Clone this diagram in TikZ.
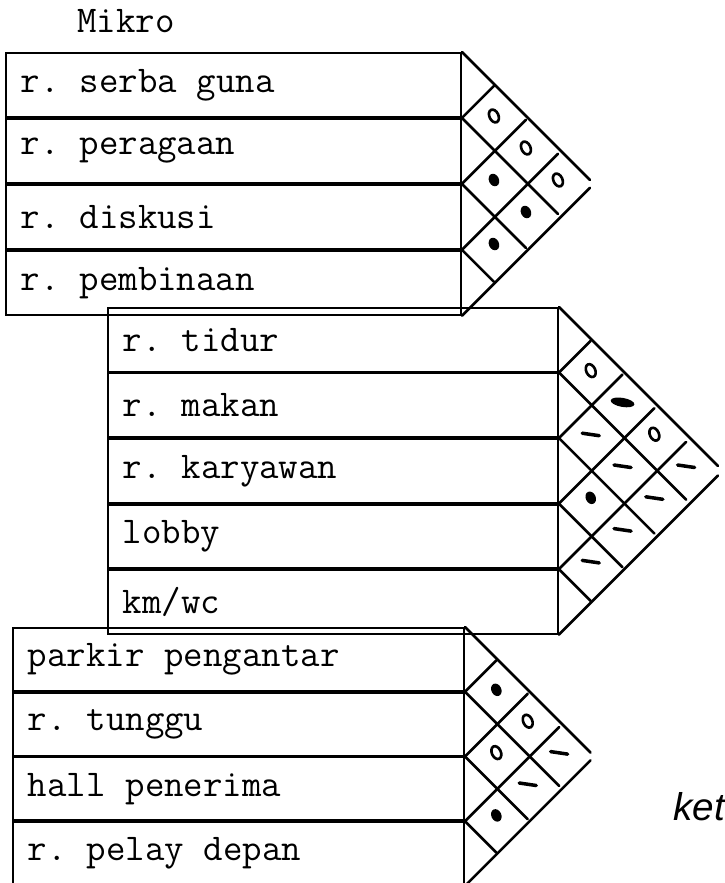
\documentclass[tikz,border=0pt]{standalone}
\usepackage{fontspec}
\usepackage{tikz}
\usetikzlibrary{positioning,calc}
\newfontfamily\handfont{Liberation Sans}
\newcommand{\roomfont}{\ttfamily\fontsize{21.5}{25}\selectfont}
\tikzset{
  room/.style 2 args={draw, line width=1.1pt, anchor=north west, text width=#1,
                      minimum height=#2, inner xsep=0.3cm, inner ysep=0pt,
                      align=left, font=\roomfont,
                      execute at begin node={\frenchspacing\spaceskip=0.525em\relax}},
  gridline/.style={line width=1.5pt, line cap=round},
  ringmark/.pic={\draw[line width=1.5pt, rotate=25] (0,0) ellipse (0.09 and 0.135);},
  dotmark/.pic={\fill[rotate=25] (0,0) ellipse (0.1 and 0.13);},
  blobmark/.pic={\fill[rotate=-10] (0,0) ellipse (0.24 and 0.09);},
  dashmark/.pic={\draw[line width=2pt, line cap=round] (-0.17,0.02) -- (0.17,-0.03);},
}

\begin{document}
\begin{tikzpicture}
\useasboundingbox (0,0) rectangle (14.48,-17.66);
% title
\node[font=\roomfont, anchor=west, inner sep=0pt] (mikro) at (1.54,-0.42) {Mikro};
% block 1
\node[room={8.5cm}{1.28cm}] (a1) at (0.10,-1.04) {r. serba guna};
\node[room={8.5cm}{1.28cm}, below=0pt of a1] (a2) {r. peragaan};
\node[room={8.5cm}{1.28cm}, below=0pt of a2] (a3) {r. diskusi};
\node[room={8.5cm}{1.28cm}, below=0pt of a3] (a4) {r. pembinaan};
% block 2
\node[room={8.4cm}{1.272cm}] (b1) at (2.14,-6.14) {r. tidur};
\node[room={8.4cm}{1.272cm}, below=0pt of b1] (b2) {r. makan};
\node[room={8.4cm}{1.272cm}, below=0pt of b2] (b3) {r. karyawan};
\node[room={8.4cm}{1.272cm}, below=0pt of b3] (b4) {lobby};
\node[room={8.4cm}{1.272cm}, below=0pt of b4] (b5) {km/wc};
% block 3
\node[room={8.42cm}{1.256cm}] (c1) at (0.24,-12.54) {parkir pengantar};
\node[room={8.42cm}{1.256cm}, below=0pt of c1] (c2) {r. tunggu};
\node[room={8.42cm}{1.256cm}, below=0pt of c2] (c3) {hall penerima};
\node[room={8.42cm}{1.256cm}, below=0pt of c3] (c4) {r. pelay depan};
% row boundaries on the right side
\coordinate (ab0) at (a1.north east);
\foreach \k in {1,...,4} \coordinate (ab\k) at (a\k.south east);
\coordinate (bb0) at (b1.north east);
\foreach \k in {1,...,5} \coordinate (bb\k) at (b\k.south east);
\coordinate (cb0) at (c1.north east);
\foreach \k in {1,...,4} \coordinate (cb\k) at (c\k.south east);
% diamond grids
\foreach \k in {0,...,3} \draw[gridline] (ab\k) -- ++({(4-\k)*0.64},{-(4-\k)*0.64});
\foreach \k in {1,...,4} \draw[gridline] (ab\k) -- ++({\k*0.64},{\k*0.64});
\foreach \k in {0,...,4} \draw[gridline] (bb\k) -- ++({(5-\k)*0.636},{-(5-\k)*0.636});
\foreach \k in {1,...,5} \draw[gridline] (bb\k) -- ++({\k*0.636},{\k*0.636});
\foreach \k in {0,...,3} \draw[gridline] (cb\k) -- ++({(4-\k)*0.628},{-(4-\k)*0.628});
\foreach \k in {1,...,4} \draw[gridline] (cb\k) -- ++({\k*0.628},{\k*0.628});
% marks in the cells
\foreach \i/\j/\m in {1/2/ringmark,1/3/ringmark,1/4/ringmark,2/3/dotmark,2/4/dotmark,3/4/dotmark}
  \pic at ($(ab0)+({(\j-\i)*0.64},{-(\i+\j-1)*0.64})$) {\m};
\foreach \i/\j/\m in {1/2/ringmark,1/3/blobmark,1/4/ringmark,1/5/dashmark,2/3/dashmark,
                      2/4/dashmark,2/5/dashmark,3/4/dotmark,3/5/dashmark,4/5/dashmark}
  \pic at ($(bb0)+({(\j-\i)*0.636},{-(\i+\j-1)*0.636})$) {\m};
\foreach \i/\j/\m in {1/2/dotmark,1/3/ringmark,1/4/dashmark,2/3/ringmark,2/4/dashmark,3/4/dotmark}
  \pic at ($(cb0)+({(\j-\i)*0.628},{-(\i+\j-1)*0.628})$) {\m};
% note
\node[font=\handfont\itshape\fontsize{22}{26}\selectfont, anchor=west, inner sep=0pt] (ket) at (13.46,-16.14) {ket};
\end{tikzpicture}
\end{document}
